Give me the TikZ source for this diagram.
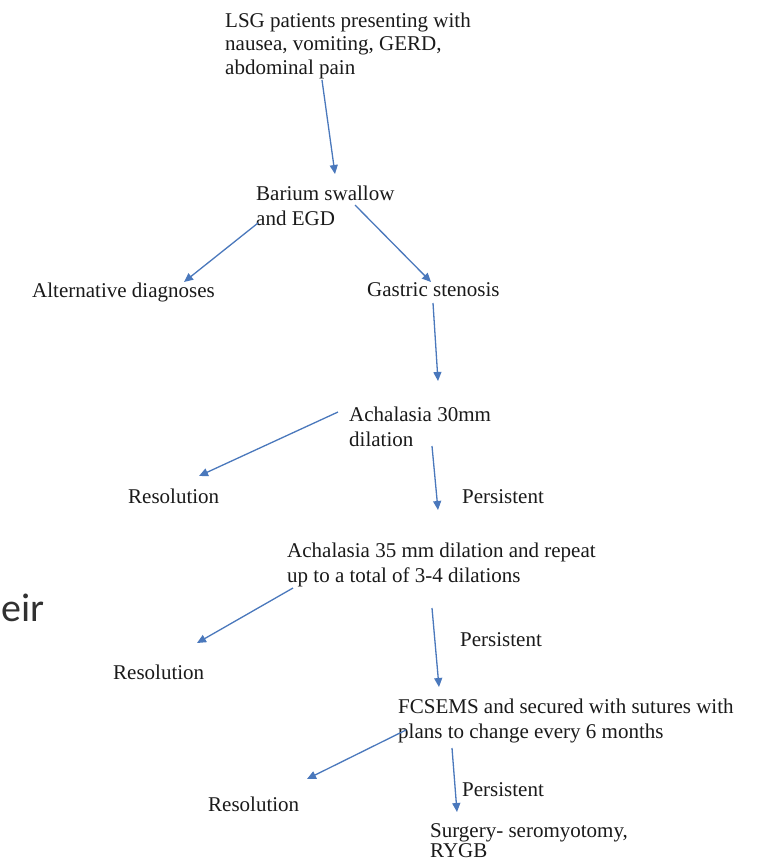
\documentclass[tikz,border=0pt]{standalone}
\usepackage{fontspec}
\setmainfont{Liberation Serif}
\newfontfamily\slidefont{Carlito}
\usetikzlibrary{arrows.meta}
\definecolor{arrowblue}{HTML}{4A78BC}
\definecolor{inkgray}{HTML}{1A1A1A}
\tikzset{
  txt/.style={inner sep=0pt, anchor=base west, text=inkgray,
    font=\fontsize{21}{25}\selectfont},
  conn/.style={draw=arrowblue, line width=1.3pt,
    -{Triangle[length=9pt,width=8pt]}}
}
\newcommand{\lines}[1]{\begin{tabular}[t]{@{}l@{}}#1\end{tabular}}
\begin{document}
\begin{tikzpicture}[x=1pt,y=-1pt]
\useasboundingbox[fill=white] (0,0) rectangle (760,863);

% text nodes
\node[txt, font=\fontsize{21}{23.5}\selectfont] (lsg) at (225,27)
  {\lines{LSG patients presenting with\\nausea, vomiting, GERD,\\abdominal pain}};
\node[txt] (barium) at (256,200) {\lines{Barium swallow\\and EGD}};
\node[txt] (alt) at (32,297) {Alternative diagnoses};
\node[txt] (gastric) at (367,296) {Gastric stenosis};
\node[txt] (ach30) at (349,421) {\lines{Achalasia 30mm\\dilation}};
\node[txt] (res1) at (128,503) {Resolution};
\node[txt] (per1) at (462,503) {Persistent};
\node[txt] (ach35) at (287,557) {\lines{Achalasia 35 mm dilation and repeat\\up to a total of 3-4 dilations}};
\node[txt] (per2) at (460,646) {Persistent};
\node[txt] (res2) at (113,679) {Resolution};
\node[txt] (fcsems) at (398,713) {\lines{FCSEMS and secured with sutures with\\plans to change every 6 months}};
\node[txt] (per3) at (462,796) {Persistent};
\node[txt] (res3) at (208,811) {Resolution};
\node[txt, font=\fontsize{21}{20.5}\selectfont] (surg) at (430,837) {\lines{Surgery- seromyotomy,\\RYGB}};
\node[inner sep=0pt, anchor=base east, text=inkgray!90, font=\slidefont\fontsize{40}{44}\selectfont] (frag) at (45,621) {eir};

% connector end points
\coordinate (lsg-o) at (322,80);   \coordinate (barium-i) at (335,174);
\coordinate (barium-l) at (258,223); \coordinate (alt-i) at (184,282);
\coordinate (barium-r) at (355,205); \coordinate (gastric-i) at (431,282);
\coordinate (gastric-o) at (433,303); \coordinate (ach30-i) at (438,381);
\coordinate (ach30-l) at (338,412); \coordinate (res1-i) at (199,476);
\coordinate (ach30-d) at (432,446); \coordinate (ach35-i) at (438,510);
\coordinate (ach35-l) at (293,588); \coordinate (res2-i) at (197,643);
\coordinate (ach35-d) at (432,608); \coordinate (fcsems-i) at (439,687);
\coordinate (fcsems-l) at (406,730); \coordinate (res3-i) at (307,779);
\coordinate (fcsems-d) at (452,748); \coordinate (surg-i) at (457,812);

\draw[conn] (lsg-o) -- (barium-i);
\draw[conn] (barium-l) -- (alt-i);
\draw[conn] (barium-r) -- (gastric-i);
\draw[conn] (gastric-o) -- (ach30-i);
\draw[conn] (ach30-l) -- (res1-i);
\draw[conn] (ach30-d) -- (ach35-i);
\draw[conn] (ach35-l) -- (res2-i);
\draw[conn] (ach35-d) -- (fcsems-i);
\draw[conn] (fcsems-l) -- (res3-i);
\draw[conn] (fcsems-d) -- (surg-i);
\end{tikzpicture}
\end{document}
